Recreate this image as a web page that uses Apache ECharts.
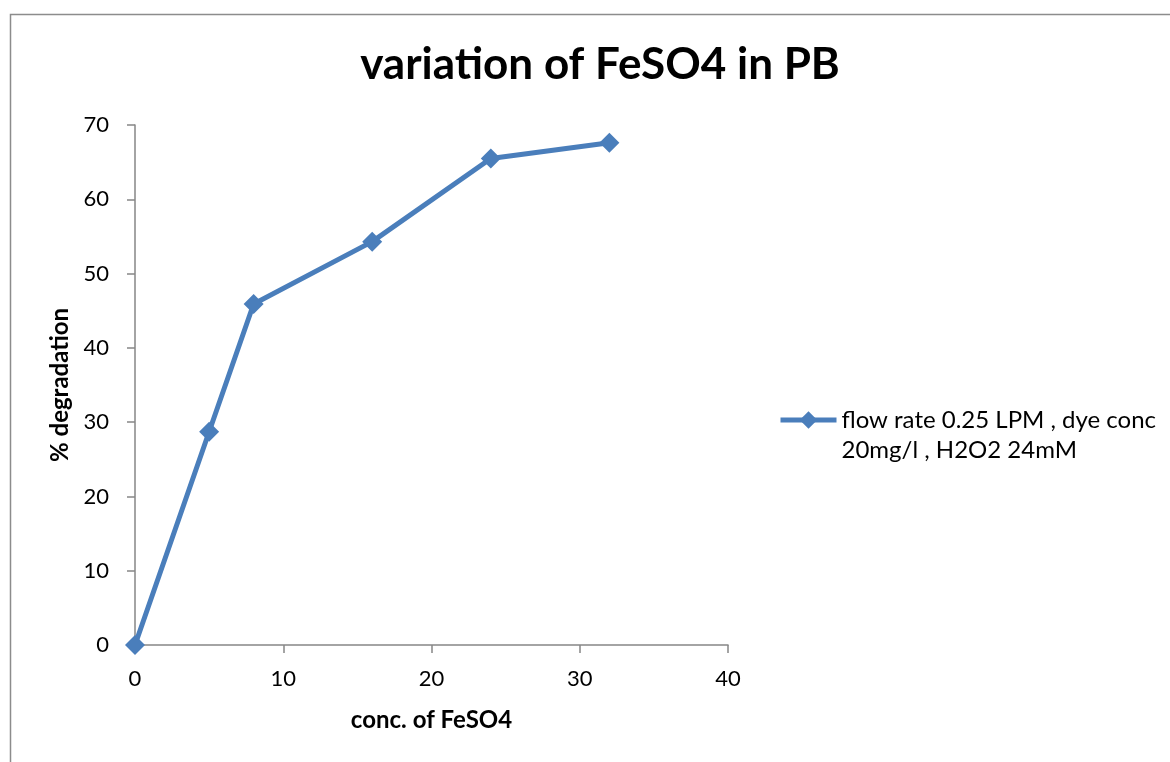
<!DOCTYPE html>
<html>
<head>
<meta charset="utf-8">
<script src="https://cdn.jsdelivr.net/npm/echarts@6/dist/echarts.min.js"></script>
<style>html,body{margin:0;padding:0;background:#fff;}#c{width:1170px;height:762px;}</style>
</head>
<body>
<div id="c"></div>
<script>
var seriesName = 'flow rate 0.25 LPM , dye conc\n20mg/l , H2O2 24mM';
var xValues = [0, 5, 8, 16, 24, 32];
var yValues = [0, 28.7, 45.9, 54.3, 65.5, 67.6];
var xTicks = [0, 10, 20, 30, 40];
var yTicks = [0, 10, 20, 30, 40, 50, 60, 70];

var chart = echarts.init(document.getElementById('c'));
var font = 'Lato';
chart.setOption({
  animation: false,
  backgroundColor: '#fff',
  graphic: [{
    type: 'rect', left: 8, top: 12,
    shape: { width: 1200, height: 800 },
    style: { fill: 'none', stroke: '#8c8c8c', lineWidth: 1.5 }
  }],
  title: {
    text: 'variation of FeSO4 in PB',
    left: 595, top: 38, textAlign: 'center',
    textStyle: { fontFamily: font, fontWeight: 'bold', fontSize: 44, color: '#000' }
  },
  legend: {
    left: 778, top: 375, padding: 0,
    itemWidth: 56, itemHeight: 22, itemGap: 4,
    lineStyle: { width: 5 },
    formatter: function (n) { return ' \n' + n; },
    textStyle: { fontFamily: font, fontSize: 24, color: '#000', lineHeight: 30 },
    data: [{ name: seriesName }]
  },
  grid: { left: 135, top: 125, right: 442, bottom: 117 },
  xAxis: {
    type: 'value', min: 0, max: 40, interval: 10,
    name: 'conc. of FeSO4', nameLocation: 'middle', nameGap: 63,
    nameTextStyle: { fontFamily: font, fontWeight: 'bold', fontSize: 24, color: '#000' },
    axisLine: { lineStyle: { color: '#868686', width: 1.5 } },
    axisTick: { length: 8, lineStyle: { color: '#868686', width: 1.5 } },
    axisLabel: { fontFamily: font, fontSize: 22, color: '#000', margin: 23,
      formatter: function (v) { return xTicks.indexOf(v) >= 0 ? String(v) : ''; } },
    splitLine: { show: false }
  },
  yAxis: {
    type: 'value', min: 0, max: 70, interval: 10,
    name: '% degradation', nameLocation: 'middle', nameGap: 61,
    nameTextStyle: { fontFamily: font, fontWeight: 'bold', fontSize: 24, color: '#000' },
    axisLine: { show: true, lineStyle: { color: '#868686', width: 1.5 } },
    axisTick: { show: true, length: 8, lineStyle: { color: '#868686', width: 1.5 } },
    axisLabel: { fontFamily: font, fontSize: 22, color: '#000', margin: 26,
      formatter: function (v) { return yTicks.indexOf(v) >= 0 ? String(v) : ''; } },
    splitLine: { show: false }
  },
  series: [{
    name: seriesName,
    type: 'line',
    data: xValues.map(function (x, i) { return [x, yValues[i]]; }),
    symbol: 'diamond', symbolSize: 20,
    lineStyle: { color: '#4A7EBB', width: 5 },
    itemStyle: { color: '#4A7EBB' },
    clip: false
  }]
});
</script>
</body>
</html>
